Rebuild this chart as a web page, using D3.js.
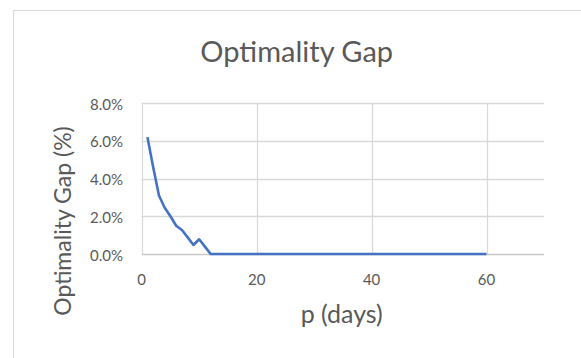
<!DOCTYPE html>
<html>
<head>
<meta charset="utf-8">
<script src="https://cdn.jsdelivr.net/npm/d3@7"></script>
<style>
  html, body { margin: 0; padding: 0; background: #ffffff; }
  svg { display: block; }
  text { font-family: Lato, "Open Sans", sans-serif; fill: #595959; }
</style>
</head>
<body>
<svg id="chart" width="581" height="358"></svg>
<script>
// Optimality gap per planning period length p (days)
const days = d3.range(1, 61);
const gapPercent = [
  6.2, 4.6, 3.1, 2.45, 2.0, 1.5, 1.27, 0.88, 0.48, 0.78,
  0.39, 0, 0, 0, 0, 0, 0, 0, 0, 0,
  0, 0, 0, 0, 0, 0, 0, 0, 0, 0,
  0, 0, 0, 0, 0, 0, 0, 0, 0, 0,
  0, 0, 0, 0, 0, 0, 0, 0, 0, 0,
  0, 0, 0, 0, 0, 0, 0, 0, 0, 0
];
const xTicks = [0, 20, 40, 60];
const yTicks = [0, 0.02, 0.04, 0.06, 0.08];
const titleText = "Optimality Gap";
const xTitle = "p (days)";
const yTitle = "Optimality Gap (%)";

const svg = d3.select("#chart");

// chart area border
svg.append("rect")
  .attr("x", 13.5).attr("y", 10.5)
  .attr("width", 600).attr("height", 400)
  .attr("fill", "none").attr("stroke", "#d9d9d9").attr("stroke-width", 1);

const plot = { left: 141.7, right: 544, top: 103.2, bottom: 254 };

const x = d3.scaleLinear().domain([0, 70]).range([plot.left, plot.right]);
const y = d3.scaleLinear().domain([0, 0.08]).range([plot.bottom, plot.top]);

// horizontal gridlines
svg.append("g")
  .selectAll("line")
  .data(yTicks.filter(d => d > 0))
  .join("line")
  .attr("x1", plot.left).attr("x2", plot.right)
  .attr("y1", d => Math.round(y(d)) + 0.5).attr("y2", d => Math.round(y(d)) + 0.5)
  .attr("stroke", "#d9d9d9").attr("stroke-width", 1.3);

// vertical gridlines
svg.append("g")
  .selectAll("line")
  .data(xTicks)
  .join("line")
  .attr("x1", d => Math.round(x(d)) + 0.5).attr("x2", d => Math.round(x(d)) + 0.5)
  .attr("y1", plot.top).attr("y2", plot.bottom)
  .attr("stroke", "#d9d9d9").attr("stroke-width", 1.3);

// x axis line
svg.append("line")
  .attr("x1", plot.left).attr("x2", plot.right)
  .attr("y1", Math.round(y(0)) + 0.5).attr("y2", Math.round(y(0)) + 0.5)
  .attr("stroke", "#c8c8c8").attr("stroke-width", 1.5);

// y tick labels
const fmt = d3.format(".1%");
svg.append("g")
  .selectAll("text")
  .data(yTicks)
  .join("text")
  .attr("x", 123)
  .attr("y", d => y(d) + 6.5)
  .attr("text-anchor", "end")
  .attr("font-size", 15)
  .text(d => fmt(d));

// x tick labels
svg.append("g")
  .selectAll("text")
  .data(xTicks)
  .join("text")
  .attr("x", d => x(d))
  .attr("y", 284.5)
  .attr("text-anchor", "middle")
  .attr("font-size", 15)
  .text(d => d);

// data line
const line = d3.line()
  .x((d, i) => x(days[i]))
  .y(d => y(d / 100));

svg.append("path")
  .datum(gapPercent)
  .attr("d", line)
  .attr("fill", "none")
  .attr("stroke", "#4472c4")
  .attr("stroke-width", 2.6)
  .attr("stroke-linejoin", "round");

// titles
svg.append("text")
  .attr("x", 296.7).attr("y", 62)
  .attr("text-anchor", "middle")
  .attr("font-size", 29)
  .text(titleText);

svg.append("text")
  .attr("x", 341.7).attr("y", 323)
  .attr("text-anchor", "middle")
  .attr("font-size", 25)
  .text(xTitle);

svg.append("text")
  .attr("transform", "translate(71,221) rotate(-90)")
  .attr("text-anchor", "middle")
  .attr("font-size", 23)
  .text(yTitle);
</script>
</body>
</html>
